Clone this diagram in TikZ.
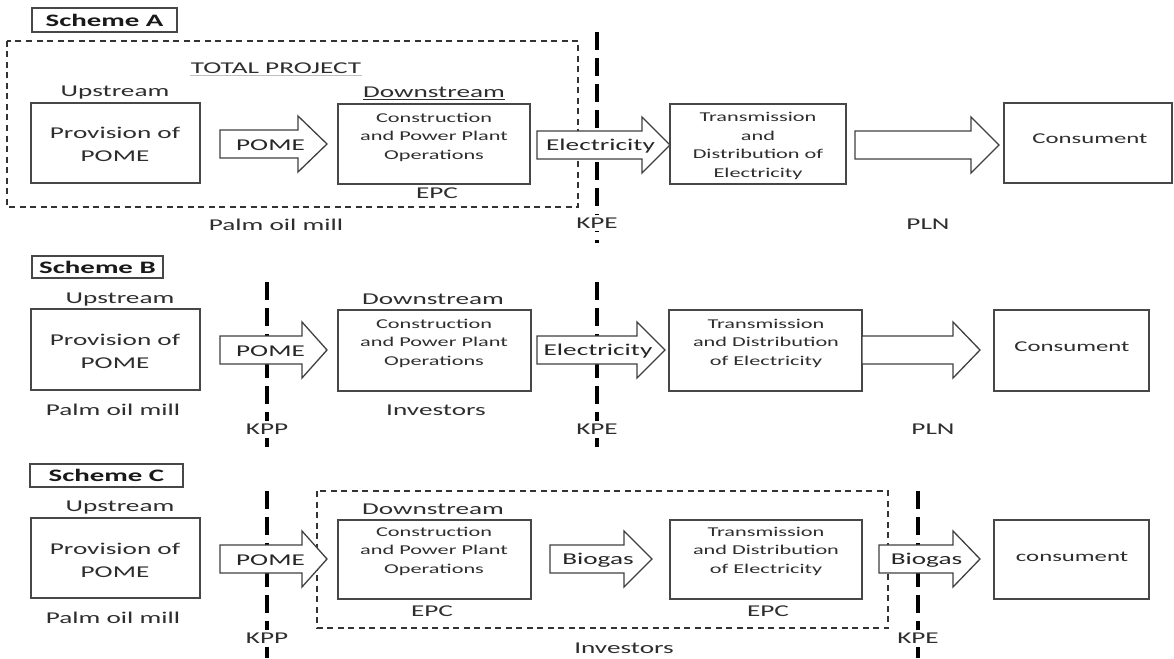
\documentclass[tikz,border=0pt]{standalone}
\usepackage{fontspec}
\setmainfont{Carlito}[FakeStretch=1.65]
\tikzset{
  pbox/.style={draw=black!72, line width=1.4pt, fill=white, inner sep=0pt},
  dashbox/.style={draw=black!80, line width=1.3pt, dash pattern=on 6pt off 4.5pt},
  divider/.style={draw=black, line width=3.6pt, dash pattern=on 18pt off 8pt},
  barrow/.style={draw=black!75, line width=1.3pt, fill=white, line join=miter},
  lbl/.style={font=\fontsize{16.5}{20}\selectfont, text=black!82, inner sep=1pt},
  divlbl/.style={lbl, fill=white, inner sep=3pt},
  intext/.style={font=\fontsize{13.5}{18.5}\selectfont, align=center, text=black!82, inner sep=0pt},
  provtext/.style={font=\fontsize{16.5}{23}\selectfont, align=center, text=black!82, inner sep=0pt},
  schtext/.style={font=\bfseries\fontsize{17.5}{20}\selectfont, text=black!90, inner sep=0pt},
  arrtext/.style={font=\fontsize{16.5}{20}\selectfont, text=black!85, inner sep=0pt},
}
\newcommand\pboxat[5]{%
  \node[pbox, minimum width={#4-#2}, minimum height={#5-#3}] (#1) at ({(#2+#4)/2},{(#3+#5)/2}) {};}
\newcommand\blockarrow[6]{%
  \draw[barrow] ({#2},{#5-14}) -- ({#3},{#5-14}) -- ({#3},{#5-28}) -- ({#4},{#5}) -- ({#3},{#5+28}) -- ({#3},{#5+14}) -- ({#2},{#5+14}) -- cycle;
  \node[arrtext] (#1) at ({(#2+#4)/2-3},{#5+1}) {#6};}
\begin{document}
\begin{tikzpicture}[x=1pt, y=-1pt]
\useasboundingbox[fill=white] (0,0) rectangle (1174,658);

% ================= Scheme A =================
\pboxat{schA}{32}{8}{177}{32}
\node[schtext] at (schA) {Scheme A};
\draw[dashbox] (7,41) rectangle (578,207);
\node[lbl] (tp) at (276,68) {TOTAL PROJECT};
\draw[black!25, line width=1.6pt] ([yshift=-1pt]tp.south west) -- ([yshift=-1pt]tp.south east);
% divider KPE
\coordinate (kpeAt) at (597,32);
\coordinate (kpeAb) at (597,243);
\draw[divider] (kpeAt) -- (kpeAb);
\node[divlbl] (kpeA) at (597,223) {KPE};

\node[lbl] (upA) at (115,93) {Upstream};
\pboxat{provA}{31}{103}{200}{183}
\node[provtext] at (115,144) {Provision of\\POME};
\blockarrow{pomeA}{220}{298}{327}{144}{POME}
\node[lbl] (downA) at (434,93) {\underline{Downstream}};
\pboxat{consA}{338}{104}{530}{184}
\node[intext] at (434,137) {Construction\\and Power Plant\\Operations};
\node[lbl] (epcA) at (437,193) {EPC};
\node[lbl] (pomA) at (276,225) {Palm oil mill};
\blockarrow{elecA}{537}{642}{670}{145}{Electricity}
\pboxat{transA}{670}{104}{846}{184}
\node[intext] at (758,146) {Transmission\\and\\Distribution of\\Electricity};
\blockarrow{bigA}{855}{971}{999}{145}{}
\pboxat{conA}{1004}{103}{1172}{183}
\node[font=\fontsize{15}{18}\selectfont, text=black!82] at (1090,139) {Consument};
\node[lbl] (plnA) at (928,224) {PLN};

% ================= Scheme B =================
\pboxat{schB}{32}{256}{163}{278}
\node[schtext] at (schB) {Scheme B};
\draw[divider] (267,282) -- (267,447);
\node[divlbl] (kppB) at (267,429) {KPP};
\draw[divider] (597,282) -- (597,447);
\node[divlbl] (kpeB) at (597,429) {KPE};

\node[lbl] (upB) at (120,300) {Upstream};
\pboxat{provB}{31}{309}{200}{390}
\node[provtext] at (115,351) {Provision of\\POME};
\node[lbl] (pomB) at (113,410) {Palm oil mill};
\blockarrow{pomeB}{220}{302}{327}{350}{POME}
\node[lbl] (downB) at (433,299) {Downstream};
\pboxat{consB}{338}{310}{531}{391}
\node[intext] at (434,343) {Construction\\and Power Plant\\Operations};
\node[lbl] (invB) at (436,410) {Investors};
\blockarrow{elecB}{537}{637}{665}{350}{Electricity}
\pboxat{transB}{669}{310}{862}{391}
\node[intext] at (766,343) {Transmission\\and Distribution\\of Electricity};
\blockarrow{bigB}{862}{953}{980}{350}{}
\pboxat{conB}{994}{310}{1149}{391}
\node[font=\fontsize{15}{18}\selectfont, text=black!82] at (1072,347) {Consument};
\node[lbl] (plnB) at (933,429) {PLN};

% ================= Scheme C =================
\pboxat{schC}{30}{464}{183}{487}
\node[schtext] at (schC) {Scheme C};
\draw[dashbox] (317,491) rectangle (888,628);
\draw[divider] (267,491) -- (267,658);
\node[divlbl] (kppC) at (267,638) {KPP};
\draw[divider] (918,491) -- (918,658);
\node[divlbl] (kpeC) at (918,638) {KPE};

\node[lbl] (upC) at (120,508) {Upstream};
\pboxat{provC}{31}{518}{200}{598}
\node[provtext] at (115,560) {Provision of\\POME};
\node[lbl] (pomC) at (113,618) {Palm oil mill};
\blockarrow{pomeC}{220}{302}{327}{559}{POME}
\node[lbl] (downC) at (433,509) {Downstream};
\pboxat{consC}{338}{520}{531}{599}
\node[intext] at (434,551) {Construction\\and Power Plant\\Operations};
\node[lbl] (epcC1) at (432,611) {EPC};
\blockarrow{bioC1}{550}{624}{652}{559}{Biogas}
\pboxat{transC}{670}{520}{862}{599}
\node[intext] at (766,551) {Transmission\\and Distribution\\of Electricity};
\node[lbl] (epcC2) at (768,611) {EPC};
\node[lbl] (invC) at (624,648) {Investors};
\blockarrow{bioC2}{879}{953}{980}{559}{Biogas}
\pboxat{conC}{994}{520}{1149}{599}
\node[font=\fontsize{15}{18}\selectfont, text=black!82] at (1072,557) {consument};
\end{tikzpicture}
\end{document}
